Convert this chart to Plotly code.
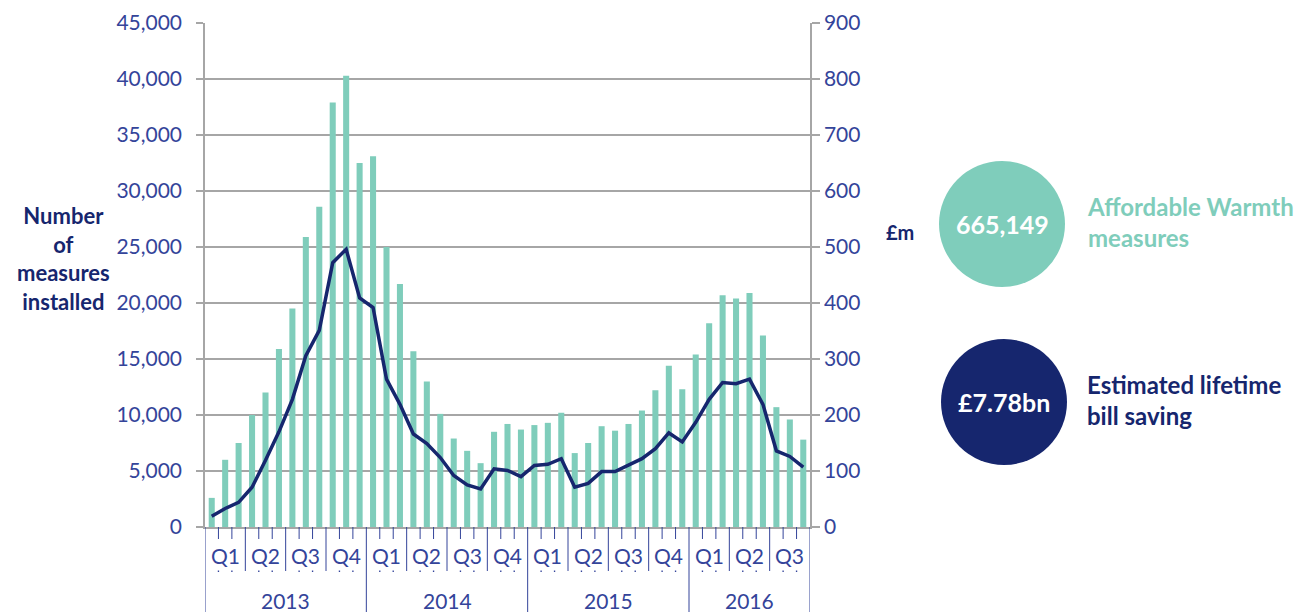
import plotly.graph_objects as go

# monthly data, Jan 2013 - Sep 2016
measures = [2600, 6000, 7500, 10000, 12000, 15900, 19500, 25900, 28600, 37900, 40300, 32500,
            33100, 25000, 21700, 15700, 13000, 10100, 7900, 6800, 5700, 8500, 9200, 8700,
            9100, 9300, 10200, 6600, 7500, 9000, 8600, 9200, 10400, 12200, 14400, 12300,
            15400, 18200, 20700, 20400, 20900, 17100, 10700, 9600, 7800]
saving_m = [19, 33, 44, 71, 119, 170, 228, 306, 351, 472, 496, 409,
            392, 264, 219, 166, 149, 124, 92, 75, 68, 104, 101, 90,
            110, 112, 122, 71, 78, 99, 99, 110, 122, 140, 168, 152,
            187, 228, 258, 256, 264, 219, 136, 126, 107]
years = ["2013", "2014", "2015", "2016"]
quarters = ["Q1", "Q2", "Q3", "Q4"]
total_measures = "665,149"
total_saving = "£7.78bn"

TEAL = "#7fcdbb"
NAVY = "#16266e"
TICK = "#34449a"
GRID = "#a6a6a6"
FONT = "Lato"

# page body has an 8px margin, so the figure is laid out in screen pixels minus 8
OFF = 8
W, H = 1316 - OFF, 612 - OFF
L, R, T, B = 205, 810, 23, 527   # plot area in screen pixels


def px(p):
    return (p - L) / (R - L)


def py(p):
    return (B - p) / (B - T)


n = len(measures)
xs = list(range(n))

fig = go.Figure()
fig.add_trace(go.Bar(x=xs, y=measures, marker_color=TEAL, marker_line_width=0,
                     name="Measures", yaxis="y"))
fig.add_trace(go.Scatter(x=xs, y=saving_m, mode="lines", line=dict(color=NAVY, width=3.5),
                         name="Saving", yaxis="y2"))

shapes = []
annotations = []

# hierarchical category axis: months -> quarters -> years
for i in range(n + 1):
    xb = i - 0.5
    if i % 12 == 0 or i == n:
        y0 = py(620)
    elif i % 3 == 0:
        y0 = py(571)
    else:
        y0 = py(539)
        shapes.append(dict(type="rect", xref="x", yref="paper", x0=xb - 0.05, x1=xb + 0.05,
                           y0=py(572), y1=py(570.5), line_width=0, fillcolor=TICK))
    shapes.append(dict(type="line", xref="x", yref="paper", x0=xb, x1=xb, y0=y0, y1=0,
                       line=dict(color=TICK, width=1)))

for qi in range((n + 2) // 3):
    annotations.append(dict(x=qi * 3 + 1, y=py(555), xref="x", yref="paper",
                            text=quarters[qi % 4], showarrow=False,
                            xanchor="center", yanchor="middle",
                            font=dict(family=FONT, size=21, color=TICK)))
for yi, yr in enumerate(years):
    start = yi * 12
    end = min(start + 12, n)
    annotations.append(dict(x=(start + end - 1) / 2, y=py(600), xref="x", yref="paper",
                            text=yr, showarrow=False, xanchor="center", yanchor="middle",
                            font=dict(family=FONT, size=21, color=TICK)))

# axis titles
annotations.append(dict(x=px(63), y=py(258), xref="paper", yref="paper",
                        text="Number<br>of<br>measures<br>installed", showarrow=False,
                        xanchor="center", yanchor="middle", align="center",
                        font=dict(family=FONT, size=22, color=NAVY, weight="bold")))
annotations.append(dict(x=px(900), y=py(232), xref="paper", yref="paper", text="£m",
                        showarrow=False, xanchor="center", yanchor="middle",
                        font=dict(family=FONT, size=20, color=NAVY, weight="bold")))

# summary circles
for cx, cy, col, val, label, lcol in [
        (1002, 224, TEAL, total_measures, "Affordable Warmth<br>measures", TEAL),
        (1004, 402, NAVY, total_saving, "Estimated lifetime<br>bill saving", NAVY)]:
    r = 63
    shapes.append(dict(type="circle", xref="paper", yref="paper",
                       x0=px(cx - r), x1=px(cx + r), y0=py(cy + r), y1=py(cy - r),
                       fillcolor=col, line_width=0))
    annotations.append(dict(x=px(cx), y=py(cy), xref="paper", yref="paper", text=val,
                            showarrow=False, xanchor="center", yanchor="middle",
                            font=dict(family=FONT, size=25, color="white", weight="bold")))
    annotations.append(dict(x=px(1085), y=py(cy - 2), xref="paper", yref="paper", text=label,
                            showarrow=False, xanchor="left", yanchor="middle", align="left",
                            font=dict(family=FONT, size=24, color=lcol, weight="bold")))

fig.update_layout(
    width=W, height=H,
    margin=dict(l=L - OFF, r=W - (R - OFF), t=T - OFF, b=H - (B - OFF), autoexpand=False),
    paper_bgcolor="white", plot_bgcolor="white",
    showlegend=False,
    bargap=0.55,
    font=dict(family=FONT, color=TICK),
    xaxis=dict(range=[-0.5, n - 0.5], showticklabels=False, ticks="", showgrid=False,
               showline=True, linecolor=GRID, linewidth=1.5, zeroline=False, fixedrange=True,
               automargin=False),
    yaxis=dict(range=[0, 45000], dtick=5000, tickformat=",d", showgrid=True,
               gridcolor=GRID, gridwidth=1.5, showline=True, linecolor=GRID, linewidth=1.5,
               ticks="outside", ticklen=7, tickcolor=GRID, tickwidth=1.5,
               ticklabelstandoff=10, automargin=False,
               tickfont=dict(family=FONT, size=21, color=TICK), zeroline=False),
    yaxis2=dict(range=[0, 900], dtick=100, overlaying="y", side="right", showgrid=False,
                showline=True, linecolor=GRID, linewidth=1.5, ticks="outside", ticklen=8,
                tickcolor=GRID, tickwidth=1.5, automargin=False,
                tickfont=dict(family=FONT, size=21, color=TICK), zeroline=False),
    shapes=shapes,
    annotations=annotations,
)

fig.write_html("out.html")
